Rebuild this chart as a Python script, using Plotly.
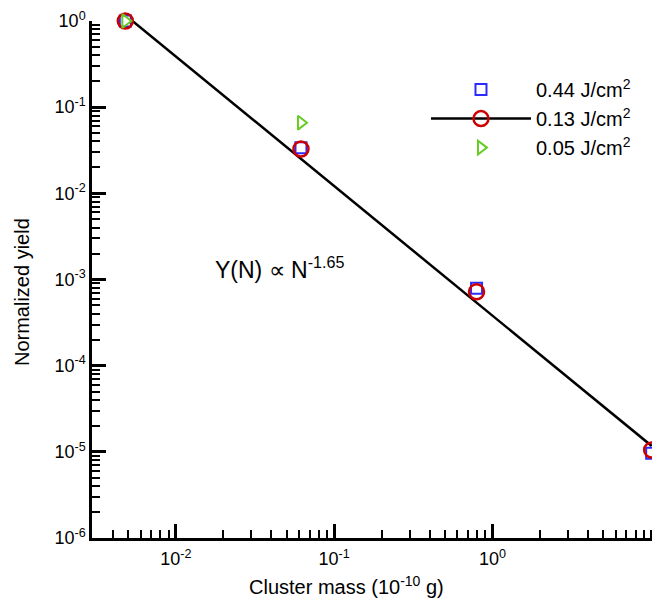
import plotly.graph_objects as go

# ---- data ----
mass = [0.0048, 0.0617, 0.792, 10.1]            # cluster mass (1e-10 g)
yield_044 = [1.0, 0.0339, 7.9e-4, 9.6e-6]       # 0.44 J/cm2
yield_013 = [1.0, 0.0327, 7.2e-4, 1.05e-5]      # 0.13 J/cm2
mass_005 = [0.0048, 0.0617]
yield_005 = [1.0, 0.066]                        # 0.05 J/cm2
fit_x = [0.0048, 10.1]
fit_y = [1.17, 1.17e-5]

x_tickvals = [0.01, 0.1, 1]
x_ticktext = ["10<sup>-2</sup>", "10<sup>-1</sup>", "10<sup>0</sup>"]
y_tickvals = [1e-6, 1e-5, 1e-4, 1e-3, 1e-2, 1e-1, 1]
y_ticktext = ["10<sup>-6</sup>", "10<sup>-5</sup>", "10<sup>-4</sup>", "10<sup>-3</sup>",
              "10<sup>-2</sup>", "10<sup>-1</sup>", "10<sup>0</sup>"]

FONT = "Liberation Sans, Arial, Helvetica, sans-serif"
BLUE = "#2b2bff"
RED = "#cc0000"
GREEN = "#66cc22"

fig = go.Figure()

fig.add_trace(go.Scatter(x=fit_x, y=fit_y, mode="lines",
                         line=dict(color="black", width=2.5),
                         showlegend=False, cliponaxis=False))
fig.add_trace(go.Scatter(x=mass, y=yield_044, mode="markers", name="0.44 J/cm<sup>2</sup>",
                         marker=dict(symbol="square-open", size=11, color=BLUE,
                                     line=dict(width=2, color=BLUE)),
                         cliponaxis=False))
fig.add_trace(go.Scatter(x=mass, y=yield_013, mode="markers", showlegend=False,
                         marker=dict(symbol="circle-open", size=15, color=RED,
                                     line=dict(width=2.5, color=RED)),
                         cliponaxis=False))
fig.add_trace(go.Scatter(x=[None], y=[None], mode="lines+markers", name="0.13 J/cm<sup>2</sup>",
                         line=dict(color="black", width=2.5),
                         marker=dict(symbol="circle-open", size=15, color=RED,
                                     line=dict(width=2.5, color=RED))))
fig.add_trace(go.Scatter(x=mass_005, y=yield_005, mode="markers", name="0.05 J/cm<sup>2</sup>",
                         marker=dict(symbol="triangle-right-open", size=12, color=GREEN,
                                     line=dict(width=2, color=GREEN)),
                         cliponaxis=False))

axis_common = dict(
    type="log", showgrid=False, zeroline=False, showline=True, linecolor="black",
    linewidth=2.5, mirror=False, ticks="inside", ticklen=14, tickwidth=2.5,
    tickcolor="black", tickfont=dict(family=FONT, size=18, color="black"),
    tickmode="array", automargin=False,
    minor=dict(ticks="inside", ticklen=8, tickwidth=1.5, tickcolor="black",
               dtick="D1", showgrid=False),
)

fig.update_xaxes(**axis_common, range=[-2.529, 1.057], tickvals=x_tickvals, ticktext=x_ticktext,
                 ticklabelstandoff=3)
fig.update_yaxes(**axis_common, range=[-6, 0], tickvals=y_tickvals, ticktext=y_ticktext)

# axis titles (placed as in the reference, whose right side is cropped)
fig.add_annotation(xref="paper", yref="paper", x=0.448, y=-0.091, xanchor="center", yanchor="middle",
                   text="Cluster mass (10<sup>-10</sup> g)", showarrow=False,
                   font=dict(family=FONT, size=20, color="black"))
fig.add_annotation(xref="paper", yref="paper", x=-0.123, y=0.476, xanchor="center", yanchor="middle",
                   text="Normalized yield", showarrow=False, textangle=-90,
                   font=dict(family=FONT, size=20, color="black"))

fig.add_annotation(xref="paper", yref="paper", x=0.213, y=0.522, xanchor="left", yanchor="middle",
                   text="Y(N) \u221d N<sup>-1.65</sup>", showarrow=False,
                   font=dict(family=FONT, size=23, color="black"))

# the page body has an 8px default margin, so the figure is 8px smaller than the window
fig.update_layout(
    width=652, height=595,
    margin=dict(l=84, r=0, t=13, b=65),
    plot_bgcolor="white", paper_bgcolor="white",
    font=dict(family=FONT, color="black"),
    legend=dict(x=0.588, y=0.905, xanchor="left", yanchor="top",
                bgcolor="rgba(0,0,0,0)", font=dict(family=FONT, size=20, color="black"),
                itemwidth=100, tracegroupgap=0),
)

fig.write_html("out.html")
